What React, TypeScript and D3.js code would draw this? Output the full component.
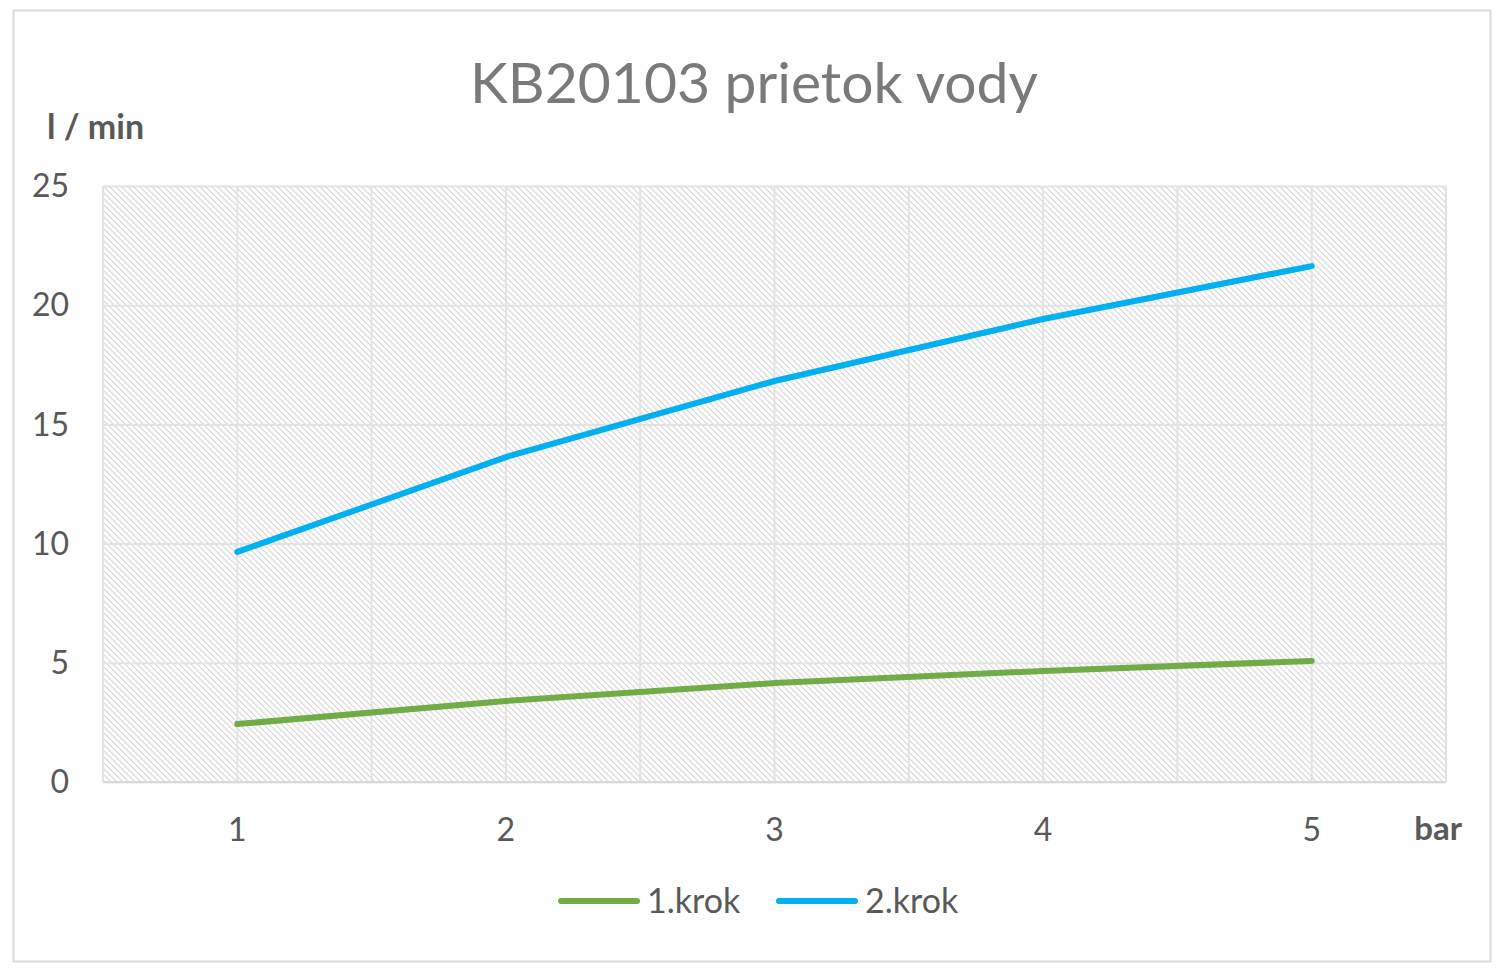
import React, { useEffect, useRef } from 'react'
import * as d3 from 'd3'

const categories = ['1', '2', '3', '4', '5']
const krok1 = [2.43, 3.4, 4.15, 4.66, 5.08]
const krok2 = [9.65, 13.63, 16.82, 19.42, 21.64]
const yTicks = [0, 5, 10, 15, 20, 25]

const series = [
  { name: '1.krok', values: krok1, color: '#70ad47' },
  { name: '2.krok', values: krok2, color: '#00b0f0' },
]

const App: React.FC = () => {
  const svgRef = useRef<SVGSVGElement>(null)

  useEffect(() => {
    if (!svgRef.current) return
    const width = 1500
    const height = 968
    const margin = { top: 186, right: 54, bottom: 186, left: 103 }
    const innerWidth = width - margin.left - margin.right
    const innerHeight = height - margin.top - margin.bottom
    const font = 'Lato, "Open Sans", sans-serif'

    const svg = d3.select(svgRef.current)
    svg.selectAll('*').remove()
    svg.attr('width', width).attr('height', height)

    // hatch pattern for plot background
    const defs = svg.append('defs')
    const pat = defs
      .append('pattern')
      .attr('id', 'hatch')
      .attr('patternUnits', 'userSpaceOnUse')
      .attr('width', 6)
      .attr('height', 6)
    pat.append('rect').attr('width', 6).attr('height', 6).attr('fill', '#ffffff')
    pat
      .append('path')
      .attr('d', 'M0,0 L6,6 M-1,5 L1,7 M5,-1 L7,1')
      .attr('stroke', '#d6d6d6')
      .attr('stroke-width', 1.1)

    // chart border
    svg
      .append('rect')
      .attr('x', 13.5)
      .attr('y', 10.5)
      .attr('width', 1477)
      .attr('height', 951)
      .attr('fill', '#ffffff')
      .attr('stroke', '#d9d9d9')
      .attr('stroke-width', 2)

    const x = d3.scaleBand<string>().domain(categories).range([0, innerWidth]).padding(0)
    const y = d3.scaleLinear().domain([0, 25]).range([innerHeight, 0])
    const cx = (c: string) => (x(c) ?? 0) + x.bandwidth() / 2

    const g = svg.append('g').attr('transform', `translate(${margin.left},${margin.top})`)

    g.append('rect').attr('width', innerWidth).attr('height', innerHeight).attr('fill', 'url(#hatch)')

    // horizontal grid
    g.append('g')
      .call(
        d3
          .axisLeft(y)
          .tickValues(yTicks)
          .tickSize(-innerWidth)
          .tickFormat(() => ''),
      )
      .call((s) => s.select('.domain').remove())
      .selectAll('.tick line')
      .attr('stroke', '#e3e3e3')
      .attr('stroke-width', 2)

    // vertical grid: band edges and centres
    const vLines: number[] = []
    categories.forEach((c) => {
      vLines.push(x(c) ?? 0)
      vLines.push(cx(c))
    })
    vLines.push(innerWidth)
    g.append('g')
      .selectAll('line')
      .data(vLines)
      .join('line')
      .attr('x1', (d) => d)
      .attr('x2', (d) => d)
      .attr('y1', 0)
      .attr('y2', innerHeight)
      .attr('stroke', '#e3e3e3')
      .attr('stroke-width', 2)

    // x axis line
    g.append('line')
      .attr('x1', 0)
      .attr('x2', innerWidth)
      .attr('y1', innerHeight)
      .attr('y2', innerHeight)
      .attr('stroke', '#d9d9d9')
      .attr('stroke-width', 2)

    // y tick labels
    g.append('g')
      .selectAll('text')
      .data(yTicks)
      .join('text')
      .attr('x', -34)
      .attr('y', (d) => y(d))
      .attr('dy', '0.35em')
      .attr('text-anchor', 'end')
      .attr('font-family', font)
      .attr('font-size', 32)
      .attr('fill', '#595959')
      .text((d) => d)

    // x tick labels
    g.append('g')
      .selectAll('text')
      .data(categories)
      .join('text')
      .attr('x', (d) => cx(d))
      .attr('y', innerHeight + 59)
      .attr('text-anchor', 'middle')
      .attr('font-family', font)
      .attr('font-size', 32)
      .attr('fill', '#595959')
      .text((d) => d)

    // lines
    const line = d3
      .line<number>()
      .x((_, i) => cx(categories[i]))
      .y((d) => y(d))
    series.forEach((s) => {
      g.append('path')
        .attr('d', line(s.values))
        .attr('fill', 'none')
        .attr('stroke', s.color)
        .attr('stroke-width', 6)
        .attr('stroke-linecap', 'round')
        .attr('stroke-linejoin', 'round')
    })

    // title
    svg
      .append('text')
      .attr('x', 754)
      .attr('y', 103)
      .attr('text-anchor', 'middle')
      .attr('font-family', font)
      .attr('font-size', 57)
      .attr('fill', '#7a7a7a')
      .text('KB20103 prietok vody')

    // axis titles
    svg
      .append('text')
      .attr('x', 47)
      .attr('y', 139)
      .attr('font-family', font)
      .attr('font-size', 34)
      .attr('font-weight', 'bold')
      .attr('fill', '#595959')
      .text('l / min')
    svg
      .append('text')
      .attr('x', 1462)
      .attr('y', 840)
      .attr('text-anchor', 'end')
      .attr('font-family', font)
      .attr('font-size', 33)
      .attr('font-weight', 'bold')
      .attr('fill', '#595959')
      .text('bar')

    // legend
    const legendX = [558, 776]
    const legend = svg
      .append('g')
      .selectAll('g')
      .data(series)
      .join('g')
      .attr('transform', (_, i) => `translate(${legendX[i]},901)`)
    legend
      .append('line')
      .attr('x1', 3)
      .attr('x2', 79)
      .attr('stroke', (d) => d.color)
      .attr('stroke-width', 6)
      .attr('stroke-linecap', 'round')
    legend
      .append('text')
      .attr('x', 89)
      .attr('dy', '0.35em')
      .attr('font-family', font)
      .attr('font-size', 34)
      .attr('fill', '#595959')
      .text((d) => d.name)
  }, [])

  return <svg ref={svgRef} style={{ position: 'absolute', left: 0, top: 0, display: 'block' }}></svg>
}

export default App
